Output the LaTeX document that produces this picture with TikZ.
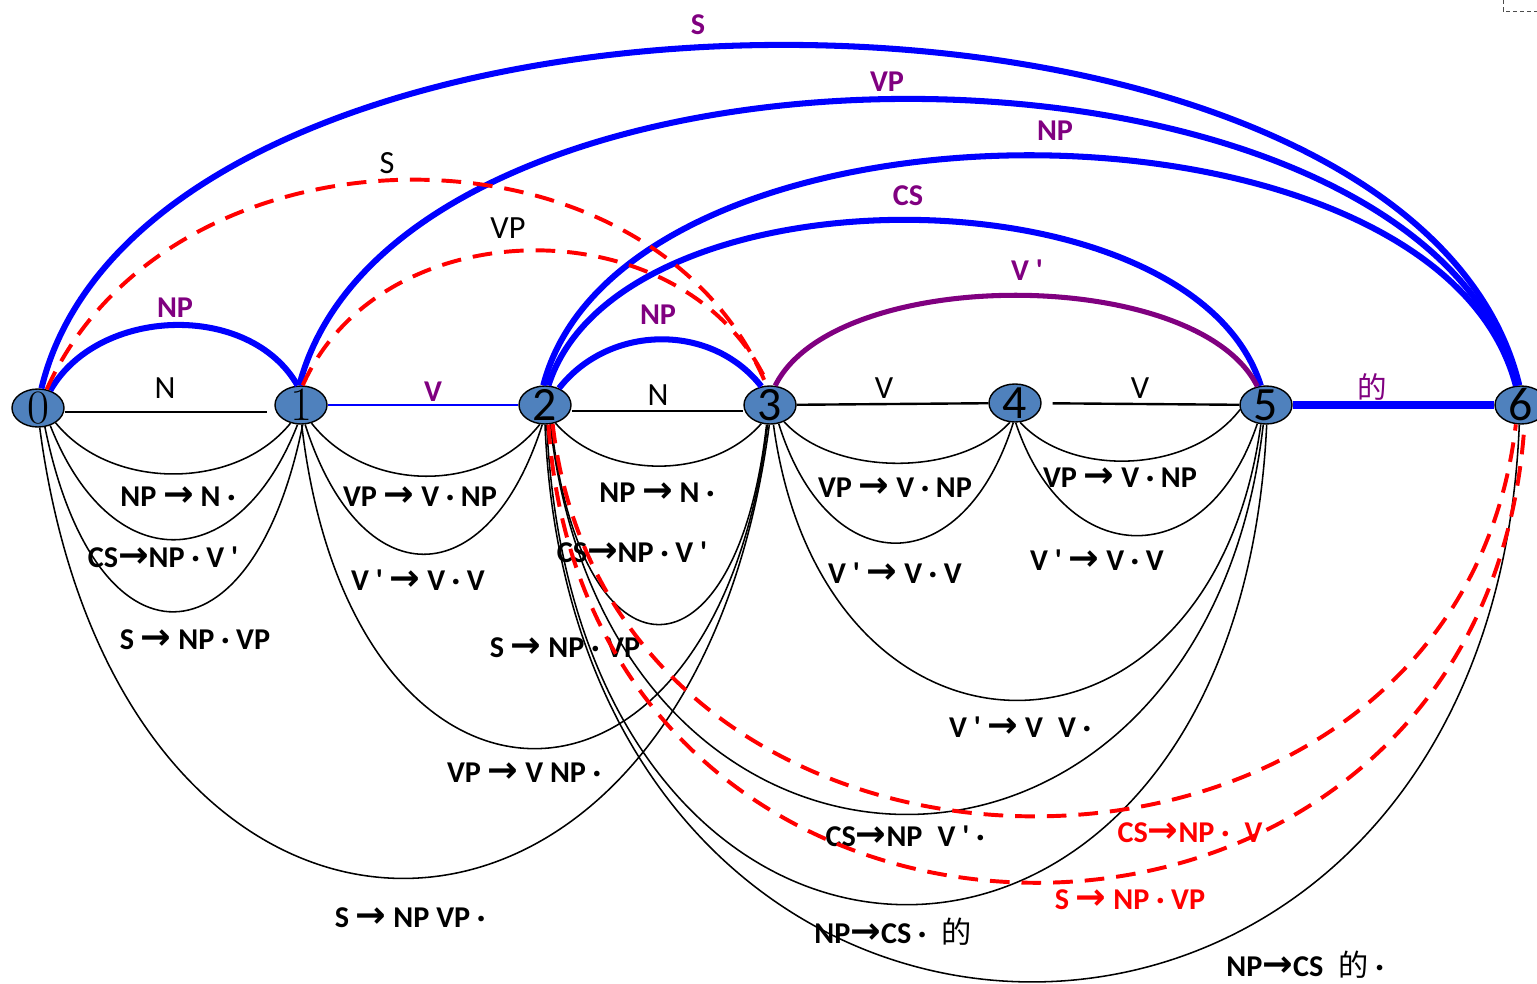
\documentclass[tikz,border=0pt]{standalone}
\usepackage{fontspec}
\setsansfont{Carlito}
\newfontfamily\cjkfont{Noto Sans CJK SC}
\newfontfamily\arrowfont{DejaVu Sans}
\usetikzlibrary{shapes.geometric}
\definecolor{edgeblue}{HTML}{0000FF}
\definecolor{edgepurple}{HTML}{800080}
\definecolor{edgered}{HTML}{FF0000}
\definecolor{statefill}{HTML}{4F81BD}
\newcommand{\prodto}{{\arrowfont\bfseries\fontsize{26}{26}\selectfont →}}
\newcommand{\primemark}{\textquotesingle}
\newcommand{\dechar}{{\cjkfont\mdseries 的}}
\tikzset{
  statenode/.style={ellipse, draw=black, fill=statefill, line width=1pt,
    minimum width=13mm, minimum height=9.5mm, inner sep=0pt},
  statenum/.style={font=\sffamily\fontsize{34}{34}\selectfont},
  wordedge/.style={draw=#1, line width=1.7pt},
  wordedge/.default=black,
  itemarc/.style={draw=black, line width=1.1pt},
  donearc/.style={draw=#1, line width=4.3pt},
  donearc/.default=edgeblue,
  predarc/.style={draw=edgered, line width=2.8pt, dash pattern=on 14pt off 8.5pt},
  ruletext/.style={font=\sffamily\bfseries\fontsize{21.5}{21.5}\selectfont, text=#1,
    inner sep=1pt},
  ruletext/.default=black,
  wordtext/.style={font=\sffamily\fontsize{23}{23}\selectfont, inner sep=1pt},
}
\begin{document}
\begin{tikzpicture}[x=0.25mm, y=-0.25mm, font=\sffamily]
\useasboundingbox (0,0) rectangle (1537,983);
% chart states
\node[statenode, label={[statenum]center:\rmfamily 0}] (n0) at (38,408) {};
\node[statenode, label={[statenum]center:\rmfamily 1}] (n1) at (301,405) {};
\node[statenode, label={[statenum]center:2}] (n2) at (545,405) {};
\node[statenode, label={[statenum]center:3}] (n3) at (770,405) {};
\node[statenode, label={[statenum]center:4}] (n4) at (1015,403) {};
\node[statenode, label={[statenum]center:5}] (n5) at (1266,405) {};
\node[statenode, label={[statenum]center:6}] (n6) at (1521,405) {};

% words on the base line
\draw[wordedge, shorten >=1.8mm] ([yshift=-1mm]n0.east) -- ([yshift=-1mm]n0.east -| n1.west);
\draw[wordedge=edgeblue, line width=2.1pt] (n1) -- (n2);
\draw[wordedge] ([yshift=-1.5mm]n2.east) -- ([yshift=-1.5mm]n2.east -| n3.west);
\draw[wordedge] (n3) -- (n4);
\draw[wordedge, shorten <=2.7mm] (n4) -- (n5);
\draw[wordedge=edgeblue, line width=5pt] (n5) -- (n6);
\node[wordtext] (wN1) at (165,388) {N};
\node[ruletext=edgepurple] (wV0) at (433,392) {V};
\node[wordtext] (wN2) at (658,395) {N};
\node[wordtext] (wV1) at (884,388) {V};
\node[wordtext] (wV2) at (1140,388) {V};
\node[font=\cjkfont\fontsize{21}{21}\selectfont, text=edgepurple] (wde) at (1372,387) {的};

% complete constituents above
\draw[donearc] (n0.55) .. controls +(48,-84) and +(-48,-84) .. (n1.100);
\draw[donearc] (n2.50) .. controls +(50,-64) and +(-50,-64) .. (n3.115);
\draw[donearc] (n0.80) .. controls +(110,-456) and +(-110,-456) .. (n6.95);
\draw[donearc] (n1.95) .. controls +(100,-382) and +(-100,-382) .. (n6.100);
\draw[donearc] (n2.95) .. controls +(80,-307) and +(-80,-307) .. (n6.105);
\draw[donearc] (n2.80) .. controls +(70,-221) and +(-70,-221) .. (n5.105);
\draw[donearc=edgepurple, line width=3.6pt] (n3.75) .. controls +(60,-121) and +(-60,-121) .. (n5.115);
\node[ruletext=edgepurple] (cS) at (698,25) {S};
\node[ruletext=edgepurple] (cVP) at (887,82) {VP};
\node[ruletext=edgepurple] (cNP26) at (1055,131) {NP};
\node[ruletext=edgepurple] (cCS) at (908,196) {CS};
\node[ruletext=edgepurple] (cVbar) at (1027,270) {V \primemark};
\node[ruletext=edgepurple] (cNP01) at (175,308) {NP};
\node[ruletext=edgepurple] (cNP23) at (658,315) {NP};

% wrong guesses above
\draw[predarc] (n0.65) .. controls +(125,-277) and +(-115,-277) .. (n3.100);
\draw[predarc] (n1.85) .. controls +(80,-180) and +(-80,-180) .. (n3.95);
\node[wordtext] (gS) at (387,163) {S};
\node[wordtext] (gVP) at (508,228) {VP};

% dotted items below
\draw[itemarc] (n0.-40) .. controls +(55,68) and +(-55,68) .. (n1.-120);
\draw[itemarc] (n0.-55) .. controls +(60,153) and +(-60,153) .. (n1.-100);
\draw[itemarc] (n0.-70) .. controls +(50,248) and +(-50,248) .. (n1.-85);
\draw[itemarc] (n0.-85) .. controls +(80,603) and +(-80,603) .. (n3.-92);
\draw[itemarc] (n1.-60) .. controls +(55,70) and +(-55,70) .. (n2.-105);
\draw[itemarc] (n1.-78) .. controls +(55,173) and +(-55,173) .. (n2.-98);
\draw[itemarc] (n1.-88) .. controls +(50,432) and +(-50,432) .. (n3.-97);
\draw[itemarc] (n2.-60) .. controls +(50,57) and +(-50,57) .. (n3.-115);
\draw[itemarc] (n2.-72) .. controls +(30,267) and +(-30,267) .. (n3.-100);
\draw[itemarc] (n2.-75) .. controls +(60,520) and +(-60,520) .. (n5.-98);
\draw[itemarc] (n2.-85) .. controls +(30,640) and +(-30,640) .. (n5.-88);
\draw[itemarc] (n2.-90) .. controls +(30,743) and +(-30,743) .. (n6.-95);
\draw[itemarc] (n3.-50) .. controls +(50,55) and +(-50,55) .. (n4.-105);
\draw[itemarc] (n3.-65) .. controls +(50,160) and +(-50,160) .. (n4.-95);
\draw[itemarc] (n3.-80) .. controls +(50,368) and +(-50,368) .. (n5.-105);
\draw[itemarc] (n4.-75) .. controls +(50,55) and +(-50,65) .. (n5.-170);
\draw[itemarc] (n4.-88) .. controls +(50,150) and +(-50,150) .. (n5.-115);
\node[ruletext] (i01a) at (178,497) {NP \prodto\ N ·};
\node[ruletext] (i01b) at (163,557) {CS\prodto NP · V \primemark};
\node[ruletext] (i01c) at (195,640) {S \prodto\ NP · VP};
\node[ruletext] (i12a) at (420,497) {VP \prodto\ V · NP};
\node[ruletext] (i12b) at (418,580) {V \primemark{} \prodto\ V · V};
\node[ruletext] (i13) at (524,773) {VP \prodto\ V NP ·};
\node[ruletext] (i03) at (410,918) {S \prodto\ NP VP ·};
\node[ruletext] (i23a) at (657,493) {NP \prodto\ N ·};
\node[ruletext] (i23b) at (632,552) {CS\prodto NP · V \primemark};
\node[ruletext] (i23c) at (565,648) {S \prodto\ NP · VP};
\node[ruletext] (i34a) at (895,488) {VP \prodto\ V · NP};
\node[ruletext] (i34b) at (895,573) {V \primemark{} \prodto\ V · V};
\node[ruletext] (i45a) at (1120,478) {VP \prodto\ V · NP};
\node[ruletext] (i45b) at (1097,560) {V \primemark{} \prodto\ V · V};
\node[ruletext] (i35) at (1020,727) {V \primemark{} \prodto\ V\enspace V ·};
\node[ruletext] (i25a) at (905,836) {CS\prodto NP\enspace V \primemark{} ·};
\node[ruletext] (i25b) at (893,932) {NP\prodto CS ·\enspace\dechar};
\node[ruletext] (i26) at (1305,965) {NP\prodto CS\enspace\dechar{} ·};

% wrong guesses below
\draw[predarc] (n2.-68) .. controls +(60,523) and +(-60,523) .. (n6.-105);
\draw[predarc] (n2.-80) .. controls +(40,611) and +(-40,611) .. (n6.-80);
\node[ruletext=edgered] (g26a) at (1190,833) {CS\prodto NP ·\enspace V};
\node[ruletext=edgered] (g26b) at (1130,900) {S \prodto\ NP · VP};

\draw[densely dashed, black!70, line width=0.6pt] (1503,0) -- (1503,11) -- (1537,11);
\end{tikzpicture}
\end{document}
